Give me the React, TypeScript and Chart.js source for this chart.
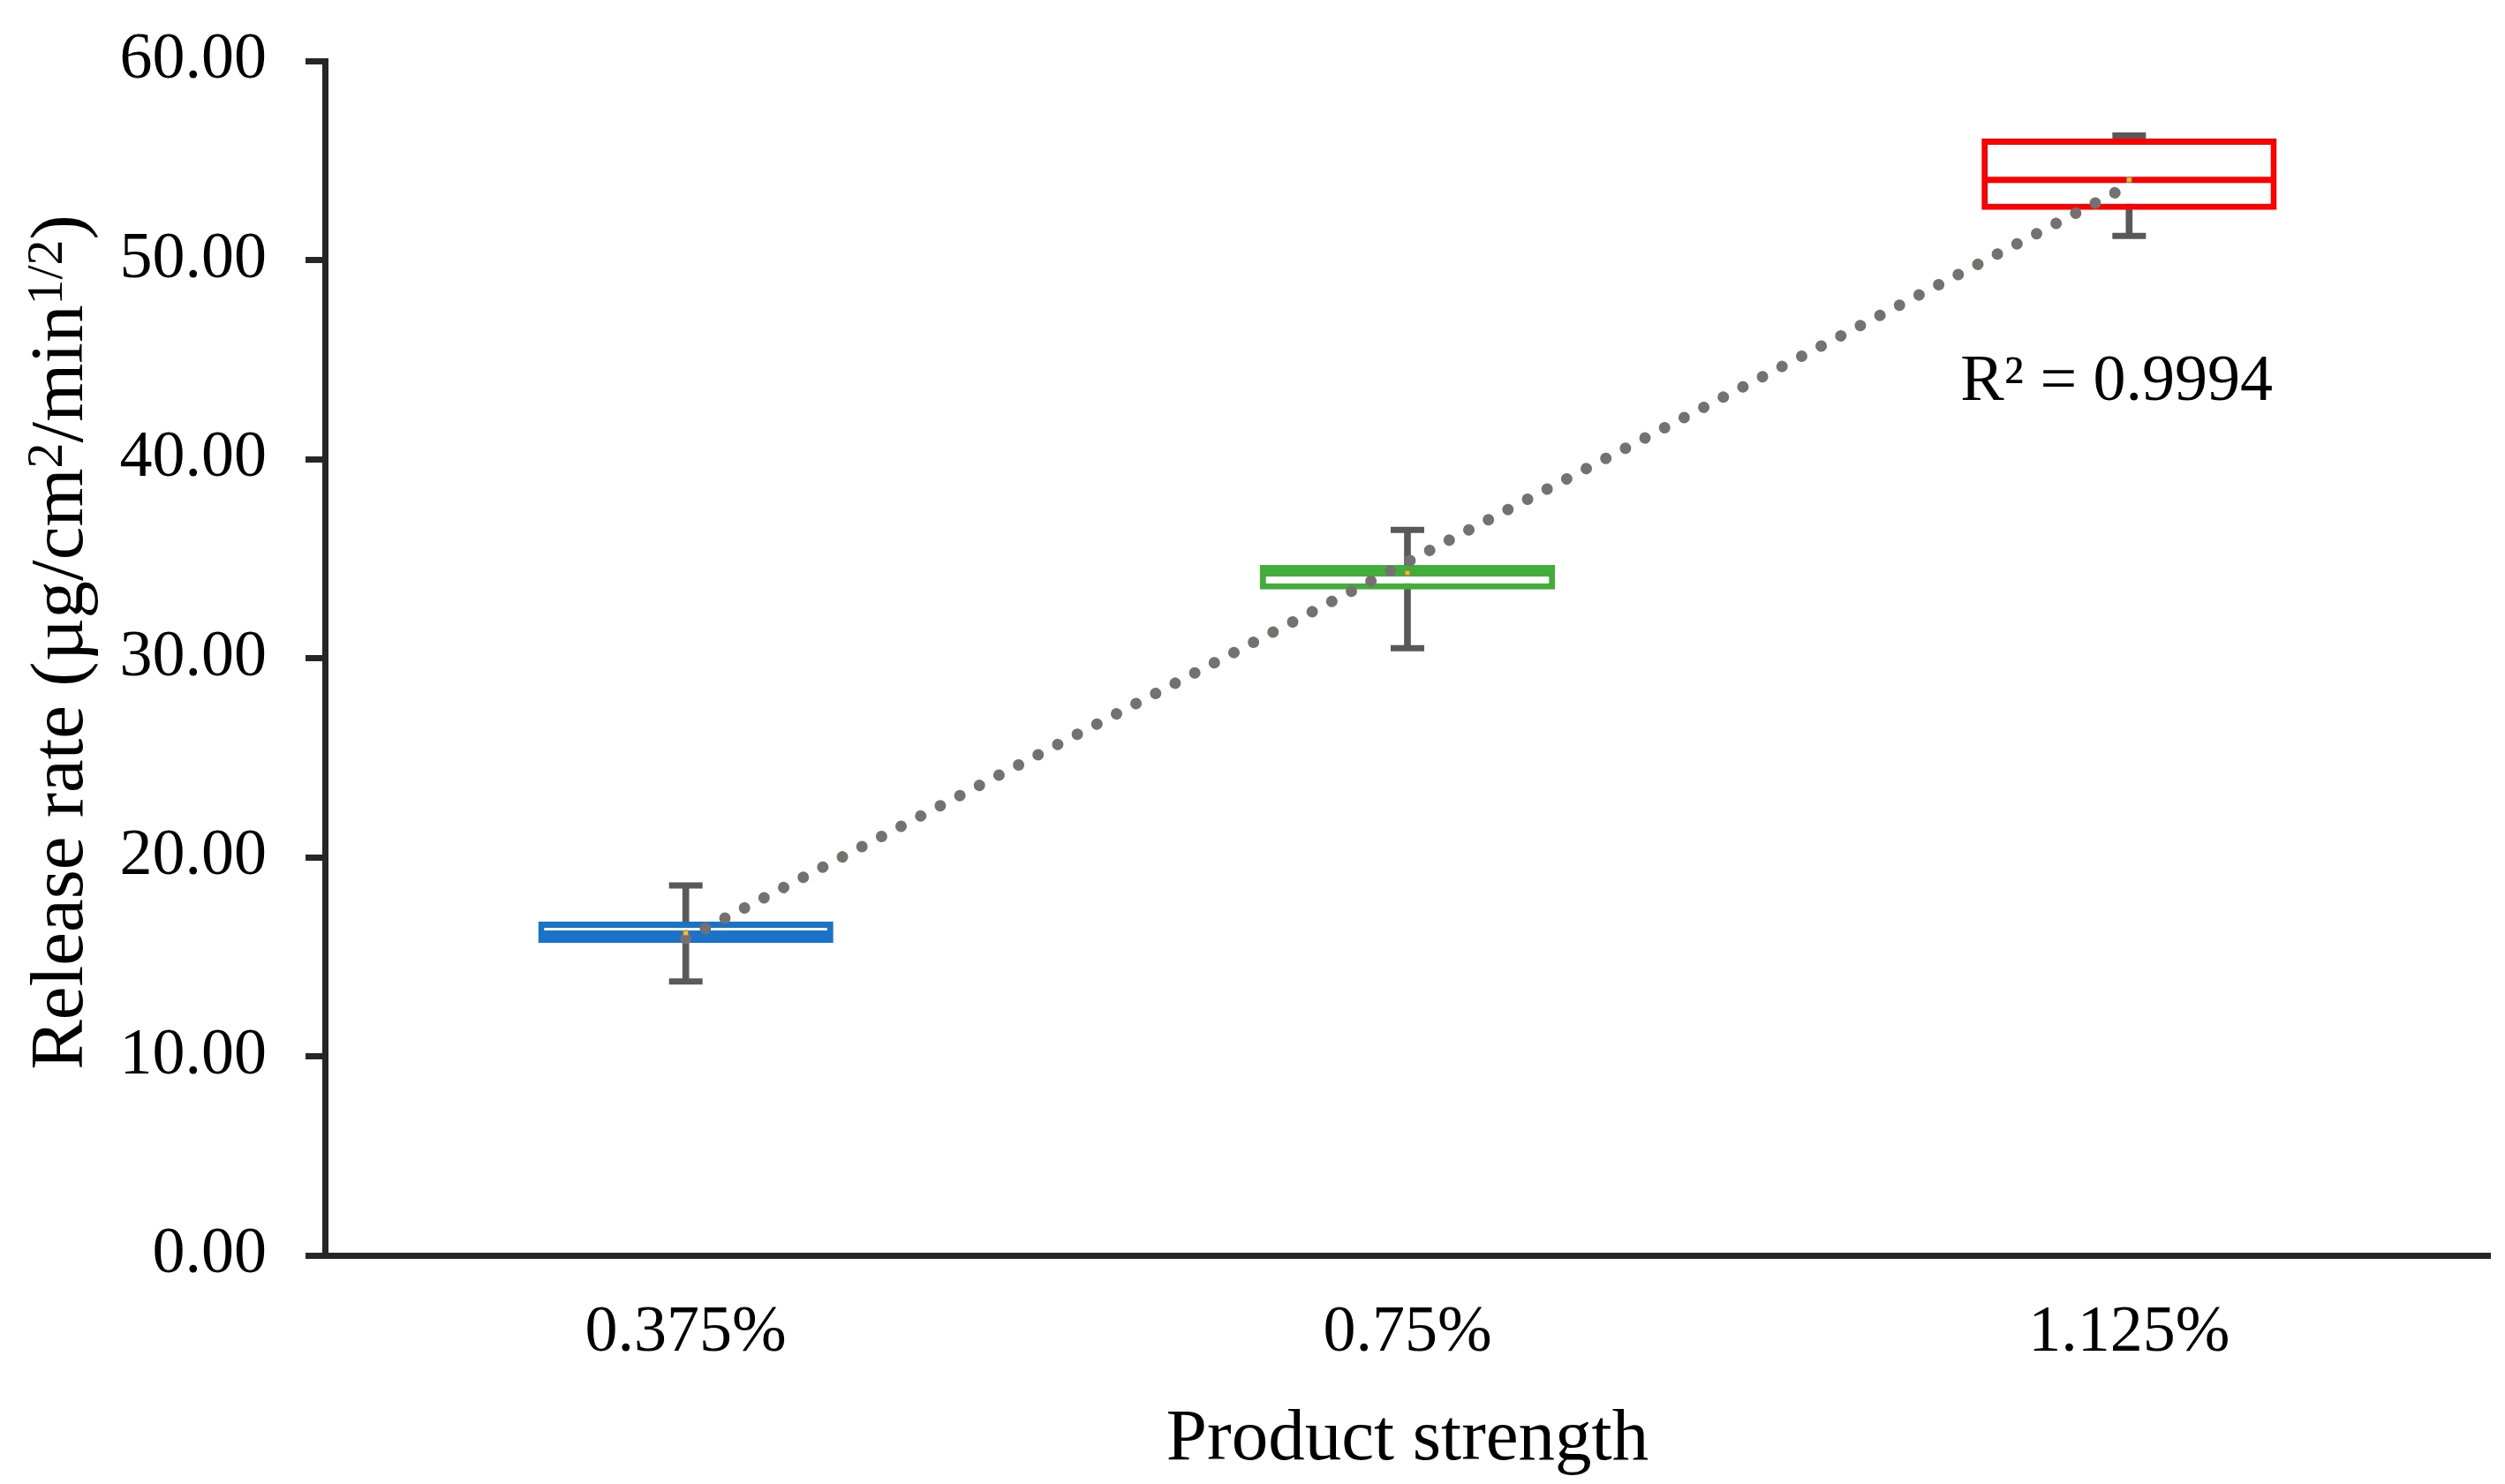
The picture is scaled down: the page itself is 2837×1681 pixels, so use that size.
import React, { useEffect, useRef } from "react";
import { Chart, registerables } from "chart.js";

Chart.register(...registerables);

// chart values
const categories = ["0.375%", "0.75%", "1.125%"];
const boxColors = ["#1a73c8", "#42ae3a", "#ff0000"];
const whiskerMin = [13.76, 30.5, 51.21];
const whiskerMax = [18.58, 36.44, 56.25];
const q1 = [15.7, 33.45, 52.52];
const q3 = [16.76, 34.68, 56.1];
const medians = [16.16, 34.26, 54.02];
const means = [16.19, 34.28, 54.03];
const trendValues = [15.91, 34.83, 53.75];
const yTicks = [0, 10, 20, 30, 40, 50, 60];
const rSquaredText = "R² = 0.9994";
const rSquaredAt = 42.97;

const serif = "'Liberation Serif', 'Times New Roman', serif";

// y title with real superscripts
const yTitlePlugin = {
    id: "yTitle",
    afterDraw(chart: any) {
        const { ctx, chartArea } = chart;
        const size = 85;
        const supSize = 58;
        const parts = [
            { text: "Release rate (µg/cm", sup: false },
            { text: "2", sup: true },
            { text: "/min", sup: false },
            { text: "1/2", sup: true },
            { text: ")", sup: false },
        ];
        ctx.save();
        let total = 0;
        const widths = parts.map((p) => {
            ctx.font = `${p.sup ? supSize : size}px ${serif}`;
            const w = ctx.measureText(p.text).width;
            total += w;
            return w;
        });
        const cy = (chartArea.top + chartArea.bottom) / 2 - 18;
        ctx.translate(93, cy);
        ctx.rotate(-Math.PI / 2);
        ctx.fillStyle = "#000";
        ctx.textBaseline = "alphabetic";
        ctx.textAlign = "left";
        let x = -total / 2;
        parts.forEach((p, i) => {
            ctx.font = `${p.sup ? supSize : size}px ${serif}`;
            ctx.fillText(p.text, x, p.sup ? -23 : 0);
            x += widths[i];
        });
        ctx.restore();
    },
};

// R² label next to the trend line
const rSquaredPlugin = {
    id: "rSquared",
    afterDatasetsDraw(chart: any) {
        const { ctx, scales } = chart;
        const x = scales.x.getPixelForValue(2) - 191;
        const y = scales.y.getPixelForValue(rSquaredAt);
        ctx.save();
        ctx.font = `74px ${serif}`;
        ctx.fillStyle = "#000";
        ctx.textAlign = "left";
        ctx.textBaseline = "alphabetic";
        ctx.fillText(rSquaredText, x, y);
        ctx.restore();
    },
};

const BoxChart: React.FC = () => {
    const chartRef = useRef<HTMLCanvasElement | null>(null);
    const chartInstance = useRef<Chart | null>(null);

    useEffect(() => {
        if (chartInstance.current) {
            chartInstance.current.destroy();
        }
        if (!chartRef.current) return;
        const ctx = chartRef.current.getContext("2d");
        if (!ctx) return;

        chartInstance.current = new Chart(ctx, {
            type: "bar",
            data: {
                labels: categories,
                datasets: [
                    {
                        type: "bar",
                        label: "whisker",
                        data: categories.map((_, i) => [whiskerMin[i], whiskerMax[i]]),
                        backgroundColor: "#595959",
                        borderWidth: 0,
                        barThickness: 7,
                        grouped: false,
                        order: 6,
                    },
                    {
                        type: "line",
                        label: "max",
                        data: whiskerMax,
                        showLine: false,
                        pointStyle: "line",
                        pointRadius: 19,
                        pointBorderWidth: 7,
                        pointBorderColor: "#595959",
                        order: 5,
                    },
                    {
                        type: "line",
                        label: "min",
                        data: whiskerMin,
                        showLine: false,
                        pointStyle: "line",
                        pointRadius: 19,
                        pointBorderWidth: 7,
                        pointBorderColor: "#595959",
                        order: 5,
                    },
                    {
                        type: "bar",
                        label: "box",
                        data: categories.map((_, i) => [q1[i], q3[i]]),
                        backgroundColor: "#ffffff",
                        borderColor: boxColors,
                        borderWidth: 7,
                        borderSkipped: false,
                        barPercentage: 0.409,
                        categoryPercentage: 1,
                        grouped: false,
                        order: 4,
                    },
                    {
                        type: "line",
                        label: "median",
                        data: medians,
                        showLine: false,
                        pointStyle: "line",
                        pointRadius: 164,
                        pointBorderWidth: 7,
                        pointBorderColor: boxColors,
                        order: 3,
                    },
                    {
                        type: "line",
                        label: "trend",
                        data: trendValues,
                        borderColor: "#767171",
                        borderWidth: 13,
                        borderDash: [0.01, 25],
                        borderCapStyle: "round",
                        pointRadius: 0,
                        order: 2,
                    },
                    {
                        type: "line",
                        label: "mean",
                        data: means,
                        showLine: false,
                        pointStyle: "rect",
                        pointRadius: 4,
                        pointBackgroundColor: "#ffc000",
                        pointBorderColor: "#7f7f7f",
                        pointBorderWidth: 1,
                        order: 1,
                    },
                ] as any,
            },
            options: {
                animation: false,
                responsive: true,
                maintainAspectRatio: false,
                events: [],
                layout: {
                    autoPadding: false,
                    padding: { top: 69, right: 17, bottom: 0, left: 0 },
                },
                plugins: {
                    legend: { display: false },
                    tooltip: { enabled: false },
                },
                scales: {
                    x: {
                        type: "category",
                        offset: true,
                        afterFit: (s: any) => {
                            s.height = 259;
                        },
                        grid: { display: false, drawTicks: false },
                        border: { display: true, width: 7, color: "#262626" },
                        ticks: {
                            color: "#000",
                            font: { family: serif, size: 74 },
                            padding: 44,
                            maxRotation: 0,
                            autoSkip: false,
                        },
                        title: {
                            display: true,
                            text: "Product strength",
                            color: "#000",
                            font: { family: serif, size: 83 },
                            padding: { top: 0, bottom: 0 },
                        },
                    },
                    y: {
                        min: 0,
                        max: 60,
                        afterBuildTicks: (s: any) => {
                            s.ticks = yTicks.map((v) => ({ value: v }));
                        },
                        afterFit: (s: any) => {
                            s.width = 368;
                            s.paddingTop = 0;
                            s.paddingBottom = 0;
                        },
                        grid: {
                            display: true,
                            drawOnChartArea: false,
                            drawTicks: true,
                            tickLength: 22,
                            lineWidth: 7,
                            color: "#262626",
                        },
                        border: { display: true, width: 7, color: "#262626" },
                        ticks: {
                            color: "#000",
                            font: { family: serif, size: 74 },
                            padding: 44,
                            callback: (v: any) => Number(v).toFixed(2),
                        },
                    },
                },
            },
            plugins: [yTitlePlugin, rSquaredPlugin],
        });

        return () => {
            if (chartInstance.current) {
                chartInstance.current.destroy();
                chartInstance.current = null;
            }
        };
    }, []);

    return (
        <div
            style={{
                position: "fixed",
                left: 0,
                top: 0,
                width: 2837,
                height: 1681,
                background: "#ffffff",
            }}
        >
            <canvas ref={chartRef}></canvas>
        </div>
    );
};

export default function App() {
    return <BoxChart />;
}
